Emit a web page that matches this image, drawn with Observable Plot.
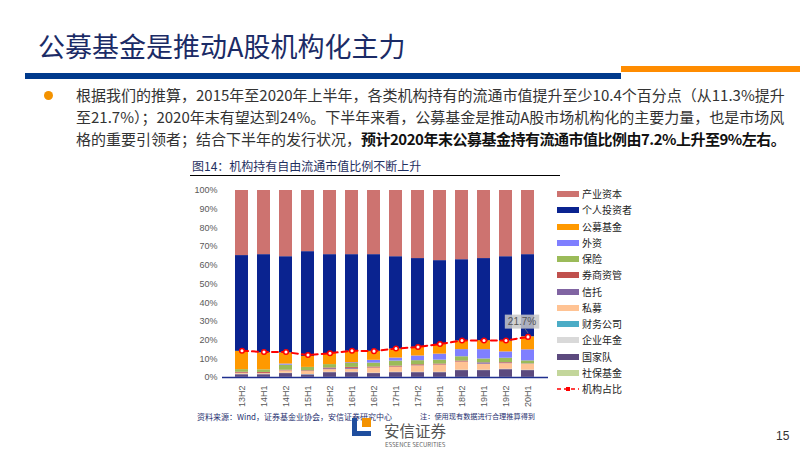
<!DOCTYPE html>
<html><head><meta charset="utf-8">
<script src="https://cdn.jsdelivr.net/npm/d3@7"></script>
<script src="https://cdn.jsdelivr.net/npm/@observablehq/plot@0.6"></script>
<style>
body{margin:0;width:800px;height:450px;position:relative;overflow:hidden;background:#fff;font-family:"Noto Sans CJK SC","Noto Sans",sans-serif;}
.abs{position:absolute;white-space:nowrap;}
#chart{position:absolute;left:185px;top:178px;}
.lg{position:absolute;left:557px;height:16px;font-size:10px;color:#222;line-height:16px;white-space:nowrap;}
.lg .sw{position:absolute;left:0;top:5px;width:22px;height:6px;}
.lg span.t{position:absolute;left:25px;top:0;}
</style></head><body>

<div class="abs" style="left:38px;top:28px;font-size:27px;line-height:36px;color:#1B2B66;">公募基金是推动A股机构化主力</div>
<div class="abs" style="left:25px;top:73px;width:596px;height:6px;background:#003A8C;"></div>
<div class="abs" style="left:621px;top:66px;width:179px;height:6px;background:#FF8C00;"></div>
<div class="abs" style="left:44px;top:91px;width:9px;height:9px;border-radius:50%;background:#F39200;"></div>
<div class="abs" style="left:76px;top:84px;font-size:15px;line-height:22px;color:#333;">根据我们的推算，2015年至2020年上半年，各类机构持有的流通市值提升至少10.4个百分点（从11.3%提升<br>至21.7%）；2020年末有望达到24%。下半年来看，公募基金是推动A股市场机构化的主要力量，也是市场风<br>格的重要引领者；结合下半年的发行状况，<b style="color:#111;letter-spacing:-0.5px;">预计2020年末公募基金持有流通市值比例由7.2%上升至9%左右。</b></div>

<div class="abs" style="left:192px;top:157px;font-size:12px;line-height:18px;color:#1F2F5F;">图14：机构持有自由流通市值比例不断上升</div>
<div class="abs" style="left:190px;top:175px;width:370px;height:1px;background:#000;"></div>

<div id="chart"></div>
<div id="legend"></div>

<div class="abs" style="left:197px;top:412px;font-size:8px;line-height:9px;color:#1F2F6F;">资料来源：Wind，证券基金业协会，安信证券研究中心</div>
<div class="abs" style="left:420px;top:412px;font-size:7.2px;line-height:9px;color:#1F2F6F;">注：使用现有数据进行合理推算得到</div>

<div class="abs" style="left:352px;top:418px;width:5px;height:18px;background:#1F4E9E;"></div>
<div class="abs" style="left:352px;top:431px;width:19px;height:5px;background:#1F4E9E;"></div>
<div class="abs" style="left:362px;top:418px;width:9px;height:9px;background:#F39200;"></div>
<div class="abs" style="left:384px;top:423px;font-size:15.5px;line-height:15px;color:#555;">安信证券</div>
<div class="abs" style="left:385px;top:442px;font-size:6px;line-height:6px;color:#666;">ESSENCE SECURITIES</div>
<div class="abs" style="left:776px;top:428px;font-size:12px;line-height:16px;color:#333;font-family:'Liberation Sans',sans-serif;">15</div>

<script>
const periods = ["13H2","14H1","14H2","15H1","15H2","16H1","16H2","17H1","17H2","18H1","18H2","19H1","19H2","20H1"];

// stack order bottom -> top
const seriesNames = ["社保基金","国家队","企业年金","财务公司","私募","信托","券商资管","保险","外资","公募基金","个人投资者","产业资本"];
const seriesColors = ["#C3D69B","#5C4A7E","#D9D9D9","#4BACC6","#FFC394","#8064A2","#C0504D","#9BBB59","#7F7FFF","#FF9900","#0A2390","#CD7370"];

const sheBao     = [0.1,0.1,0.1,0.1,0.1,0.1,0.1,0.1,0.1,0.1,0.1,0.1,0.1,0.1];
const guoJiaDui  = [1.4,1.4,2.0,1.3,2.5,2.5,2.0,2.5,2.5,2.5,3.6,3.6,4.1,3.6];
const qiYeNianJin= [0.1,0.1,0.1,0.1,0.1,0.1,0.1,0.1,0.1,0.1,0.1,0.1,0.1,0.1];
const caiWu      = [0.1,0.1,0.1,0.1,0.1,0.1,0.1,0.1,0.1,0.1,0.1,0.1,0.1,0.1];
const siMu       = [0.5,0.4,1.2,1.6,1.4,1.6,2.7,2.7,3.4,3.8,4.3,3.2,3.0,3.2];
const xinTuo     = [0.1,0.1,0.1,0.1,0.5,0.5,0.1,0.1,0.1,0.1,0.1,0.7,0.3,0.1];
const quanShang  = [0.5,0.5,0.3,0.3,0.4,0.5,0.5,0.5,0.5,0.5,0.5,0.1,0.3,0.1];
const baoXian    = [1.4,1.4,2.7,1.8,1.8,2.1,2.1,2.7,2.2,2.1,2.3,2.0,2.3,1.6];
const waiZi      = [0.0,0.0,0.6,0.0,0.0,0.4,1.5,1.6,2.5,3.2,3.8,5.0,3.4,5.9];
const gongMu     = [9.8,9.1,6.0,5.9,5.9,6.1,4.8,4.8,4.6,5.1,4.6,4.8,5.8,7.0];
const geRen      = [51.2,52.5,51.4,56.0,52.9,51.7,51.7,49.4,47.5,44.9,43.5,43.9,45.1,43.9];
const chanYe     = [34.8,34.3,35.4,32.7,34.3,34.3,34.3,35.4,36.4,37.5,37.0,36.4,35.4,34.3];

const jiGouZhanBi = [14.3,13.6,13.6,12.0,13.0,14.3,14.1,15.5,16.3,17.9,19.8,19.8,19.8,21.7];
const yTicks = [0,10,20,30,40,50,60,70,80,90,100];

const seriesValues = [sheBao,guoJiaDui,qiYeNianJin,caiWu,siMu,xinTuo,quanShang,baoXian,waiZi,gongMu,geRen,chanYe];

const rows = [];
periods.forEach((p,i)=>seriesNames.forEach((s,k)=>rows.push({period:p, series:s, value:seriesValues[k][i]})));
const lineRows = periods.map((p,i)=>({period:p, v:jiGouZhanBi[i]}));
const lastRow = [lineRows[lineRows.length-1]];

const chart = Plot.plot({
  width: 370, height: 240,
  marginLeft: 37, marginRight: 7, marginTop: 12, marginBottom: 41,
  style: {fontFamily: "'Liberation Sans', sans-serif", background: "transparent"},
  x: {type: "band", domain: periods, paddingInner: 0.387, paddingOuter: 0.33},
  y: {domain: [0,100]},
  color: {domain: seriesNames, range: seriesColors},
  marks: [
    Plot.barY(rows, {x:"period", y:"value", fill:"series", order: seriesNames}),
    Plot.ruleY([0], {stroke:"#1F2F8F", strokeWidth:1.5}),
    Plot.axisY(yTicks, {tickSize:0, tickPadding:5, fontSize:9, fill:"#595959", tickFormat:d=>d+"%", label:null}),
    Plot.axisX({tickSize:0, tickRotate:-90, tickPadding:8, fontSize:9, fill:"#595959", label:null}),
    Plot.lineY(lineRows, {x:"period", y:"v", stroke:"#FF0000", strokeWidth:2, strokeDasharray:"6,4"}),
    Plot.dot(lineRows, {x:"period", y:"v", r:2.3, fill:"white", stroke:"#FF0000", strokeWidth:1.5}),
    Plot.text(lastRow, {x:"period", y:"v", text:d=>d.v+"%", dx:-6, dy:-15, fontSize:10, fill:"#555", className:"dlabel"})
  ]
});
document.getElementById("chart").appendChild(chart);

// gray box behind data label + leader line to its point
const lbl = chart.querySelector("g.dlabel text") || chart.querySelector(".dlabel text");
if (lbl) {
  const bb = lbl.getBBox();
  const tr = lbl.getAttribute("transform");
  const ns = "http://www.w3.org/2000/svg";
  const rect = document.createElementNS(ns,"rect");
  rect.setAttribute("x", bb.x-3); rect.setAttribute("y", bb.y-1.5);
  rect.setAttribute("width", bb.width+6); rect.setAttribute("height", bb.height+3);
  rect.setAttribute("fill", "#C8C8C8"); rect.setAttribute("fill-opacity", "0.85");
  if (tr) rect.setAttribute("transform", tr);
  lbl.parentNode.insertBefore(rect, lbl);
  const ln = document.createElementNS(ns,"line");
  ln.setAttribute("x1", bb.x + bb.width*0.6); ln.setAttribute("y1", bb.y + bb.height + 1.5);
  ln.setAttribute("x2", bb.x + bb.width/2 + 6); ln.setAttribute("y2", bb.y + bb.height + 6);
  ln.setAttribute("stroke", "#777"); ln.setAttribute("stroke-width", "0.8");
  if (tr) ln.setAttribute("transform", tr);
  lbl.parentNode.insertBefore(ln, lbl);
}

// legend (top of stack first)
const legend = document.getElementById("legend");
const legendItems = seriesNames.slice().reverse().map((n)=>({name:n, color:seriesColors[seriesNames.indexOf(n)]}));
legendItems.forEach((it,i)=>{
  const d = document.createElement("div");
  d.className = "lg";
  d.style.top = (186 + i*16.27) + "px";
  d.innerHTML = `<div class="sw" style="background:${it.color}"></div><span class="t">${it.name}</span>`;
  legend.appendChild(d);
});
const ld = document.createElement("div");
ld.className = "lg";
ld.style.top = (186 + 12*16.27) + "px";
ld.innerHTML = `<svg width="24" height="16" style="position:absolute;left:0;top:0"><line x1="0" y1="8" x2="22" y2="8" stroke="#FF0000" stroke-width="1.5" stroke-dasharray="4,3"/><rect x="9" y="6" width="4" height="4" fill="#FF0000"/></svg><span class="t">机构占比</span>`;
legend.appendChild(ld);
</script>
</body></html>
